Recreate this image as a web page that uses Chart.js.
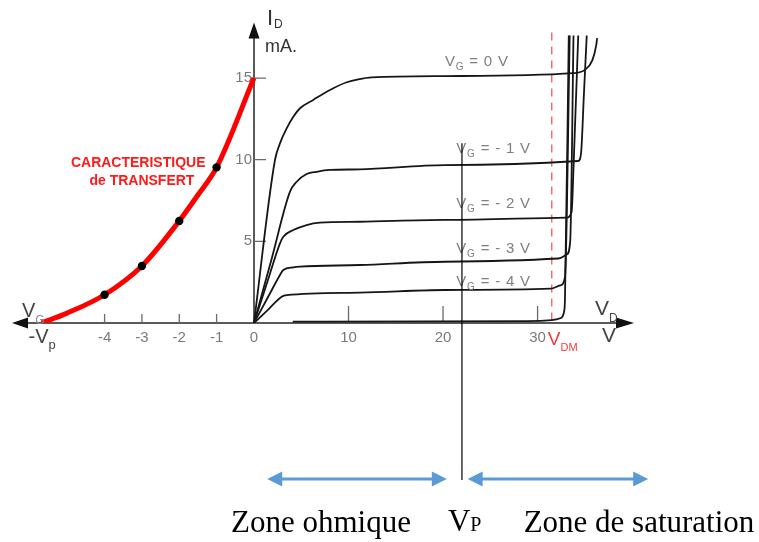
<!DOCTYPE html>
<html>
<head>
<meta charset="utf-8">
<script src="https://cdn.jsdelivr.net/npm/chart.js@4.4.1/dist/chart.umd.min.js"></script>
<style>
  html, body { margin: 0; padding: 0; background: #fff; }
  #wrap { position: relative; width: 759px; height: 542px; }
</style>
</head>
<body>
<div id="wrap"><canvas id="jfet" width="759" height="542"></canvas></div>
<script>
// transfer characteristic (left side, V_G in volts, I_D in mA)
const vgTransfer = [-5.69, -5.02, -4, -3, -2, -1.5, -1, 0];
const idTransfer = [0, 0.59, 1.73, 3.49, 6.25, 7.84, 9.53, 15.0];

// output characteristics (right side, V_D in volts, I_D in mA)
const gateLabels = ['0', '- 1', '- 2', '- 3', '- 4'];
const vdCurve0 = [0, 2.22, 2.75, 3.46, 4.16, 4.87, 6.27, 8.04, 9.81, 11.03, 12.48, 20.2, 33.8, 35.0, 35.8, 36.2, 36.3];
const idCurve0 = [0, 9.98, 11.0, 11.92, 12.63, 13.15, 13.66, 14.27, 14.74, 14.92, 15.04, 15.12, 15.3, 15.5, 16.1, 17.0, 17.45];
const vdCurve1 = [0, 1.9, 3.81, 4.52, 5.57, 6.63, 8.04, 11.2, 20.2, 34.3, 34.6, 34.9, 35.2];
const idCurve1 = [0, 4.0, 8.04, 8.65, 9.12, 9.26, 9.37, 9.41, 9.67, 9.92, 10.4, 14.0, 17.6];
const vdCurve2 = [0, 1.4, 2.75, 3.1, 4.16, 5.57, 6.98, 11.2, 20.2, 33.0, 33.6, 33.8, 34.3];
const idCurve2 = [0, 2.5, 4.88, 5.28, 5.69, 6.0, 6.14, 6.2, 6.31, 6.45, 6.8, 9.5, 17.6];
const vdCurve3 = [0, 1.4, 2.75, 3.1, 4.16, 4.87, 11.2, 20.2, 32.2, 33.1, 33.45, 33.8];
const idCurve3 = [0, 1.5, 2.94, 3.25, 3.41, 3.45, 3.55, 3.75, 3.95, 4.2, 5.0, 17.6];
const vdCurve4 = [0, 1.5, 2.93, 3.46, 11.2, 20.2, 31.4, 32.4, 32.9, 33.4];
const idCurve4 = [0, 0.82, 1.61, 1.71, 1.86, 2.02, 2.1, 2.3, 2.8, 17.6];
const vdCurve5 = [4.1, 29.0, 31.5, 32.4, 32.8, 32.9, 33.3];
const idCurve5 = [0.08, 0.12, 0.18, 0.29, 0.69, 1.53, 17.6];

// ticks
const idTicks = [5, 10, 15];
const vgTicks = [-4, -3, -2, -1];
const vdTicks = [10, 20, 30];

const vPinch = -5.69;   // -Vp on the gate axis
const vdMax = 31.5;     // V_DM
const vpDrain = 22;     // V_P on the drain axis
const zoneOhmic = [1.4, 20.4];
const zoneSat = [22.6, 41.7];

const SANS = '"Liberation Sans", Arial, sans-serif';
const SERIF = '"Liberation Serif", "Times New Roman", serif';

function toPoints(xs, ys) {
    return xs.map((x, i) => ({ x: x, y: ys[i] }));
}

function drawSub(ctx, x, y, main, sub, rest, o) {
    ctx.textAlign = 'left';
    ctx.textBaseline = 'alphabetic';
    ctx.font = o.font;
    ctx.fillStyle = o.color;
    ctx.fillText(main, x, y);
    let cx = x + ctx.measureText(main).width;
    ctx.font = o.subFont;
    ctx.fillStyle = o.subColor || o.color;
    ctx.fillText(sub, cx + (o.gap || 0), y + o.dy);
    cx += ctx.measureText(sub).width + (o.gap || 0);
    if (rest) {
        ctx.font = o.font;
        ctx.fillStyle = o.color;
        ctx.fillText(rest, cx, y);
    }
}

function arrowHead(ctx, tipX, tipY, dx, dy, len, half) {
    // dx,dy = unit direction of the arrow
    ctx.beginPath();
    ctx.moveTo(tipX, tipY);
    ctx.lineTo(tipX - dx * len - dy * half, tipY - dy * len + dx * half);
    ctx.lineTo(tipX - dx * len + dy * half, tipY - dy * len - dx * half);
    ctx.closePath();
    ctx.fill();
}

function doubleArrow(ctx, x1, x2, y) {
    ctx.strokeStyle = '#5b9bd5';
    ctx.fillStyle = '#5b9bd5';
    ctx.lineWidth = 3;
    ctx.beginPath();
    ctx.moveTo(x1 + 10, y);
    ctx.lineTo(x2 - 10, y);
    ctx.stroke();
    arrowHead(ctx, x1, y, -1, 0, 15, 7.5);
    arrowHead(ctx, x2, y, 1, 0, 15, 7.5);
}

const axesPlugin = {
    id: 'axes',
    beforeDatasetsDraw(chart) {
        const ctx = chart.ctx;
        const xg = chart.scales.xg, xd = chart.scales.xd, y = chart.scales.y;
        const x0 = xd.getPixelForValue(0);
        const y0 = y.getPixelForValue(0);
        ctx.save();
        ctx.strokeStyle = '#5a5a5a';
        ctx.fillStyle = '#111';
        ctx.lineWidth = 2;
        // horizontal axis
        ctx.beginPath();
        ctx.moveTo(xg.left + 8, y0);
        ctx.lineTo(xd.right - 8, y0);
        ctx.stroke();
        arrowHead(ctx, xg.left, y0, -1, 0, 16, 5.5);
        arrowHead(ctx, xd.right, y0, 1, 0, 18, 5.5);
        // vertical axis
        ctx.beginPath();
        ctx.moveTo(x0, y0);
        ctx.lineTo(x0, y.top + 8);
        ctx.stroke();
        arrowHead(ctx, x0, y.top, 0, -1, 16, 5.5);

        // tick marks
        ctx.strokeStyle = '#6a6a6a';
        ctx.lineWidth = 1.3;
        ctx.beginPath();
        idTicks.forEach(v => {
            const py = y.getPixelForValue(v);
            ctx.moveTo(x0, py);
            ctx.lineTo(x0 + 12, py);
        });
        vgTicks.forEach(v => {
            const px = xg.getPixelForValue(v);
            ctx.moveTo(px, y0);
            ctx.lineTo(px, y0 - 9);
        });
        vdTicks.forEach(v => {
            const px = xd.getPixelForValue(v);
            ctx.moveTo(px, y0);
            ctx.lineTo(px, y0 - 17);
        });
        ctx.stroke();

        // V_DM dashed line
        ctx.strokeStyle = '#f05a5a';
        ctx.lineWidth = 1.3;
        ctx.setLineDash([8, 6]);
        ctx.beginPath();
        const pxm = xd.getPixelForValue(vdMax);
        ctx.moveTo(pxm, y.top + 10);
        ctx.lineTo(pxm, y0);
        ctx.stroke();
        ctx.setLineDash([]);

        // tick labels
        ctx.fillStyle = '#7a7a7a';
        ctx.font = '15px ' + SANS;
        ctx.textBaseline = 'middle';
        ctx.textAlign = 'right';
        idTicks.forEach(v => ctx.fillText(String(v), x0 - 2, y.getPixelForValue(v)));
        ctx.textAlign = 'center';
        vgTicks.concat([0]).forEach(v => ctx.fillText(String(v), xg.getPixelForValue(v), y0 + 15));
        vdTicks.forEach(v => ctx.fillText(String(v), xd.getPixelForValue(v), y0 + 15));
        ctx.restore();
    },
    afterDatasetsDraw(chart) {
        const ctx = chart.ctx;
        const xg = chart.scales.xg, xd = chart.scales.xd, y = chart.scales.y;
        const x0 = xd.getPixelForValue(0);
        const y0 = y.getPixelForValue(0);
        ctx.save();

        // axis names
        drawSub(ctx, x0 + 13, 25, 'I', 'D', '', {
            font: '22px ' + SANS, subFont: '12px ' + SANS, color: '#333', dy: 3, gap: 1
        });
        ctx.font = '18px ' + SANS;
        ctx.fillStyle = '#333';
        ctx.fillText('mA.', x0 + 11, 52);

        drawSub(ctx, xg.left + 10, y0 - 6, 'V', 'G', '', {
            font: '20px ' + SANS, subFont: '12px ' + SANS, color: '#444', subColor: '#888', dy: 7
        });
        drawSub(ctx, xg.getPixelForValue(vPinch) - 13, y0 + 20, '-V', 'p', '', {
            font: '20px ' + SANS, subFont: '13px ' + SANS, color: '#444', dy: 6
        });
        drawSub(ctx, xd.right - 39, y0 - 8, 'V', 'D', '', {
            font: '21px ' + SANS, subFont: '12px ' + SANS, color: '#444', dy: 7
        });
        ctx.font = '21px ' + SANS;
        ctx.fillStyle = '#444';
        ctx.fillText('V', xd.right - 32, y0 + 19);
        drawSub(ctx, xd.getPixelForValue(vdMax) - 4, y0 + 22, 'V', 'DM', '', {
            font: '19px ' + SANS, subFont: '11px ' + SANS, color: '#f03c3c', dy: 6
        });

        // red label
        ctx.font = 'bold 14px ' + SANS;
        ctx.fillStyle = '#ff1a1a';
        ctx.textAlign = 'center';
        ctx.fillText('CARACTERISTIQUE', xg.getPixelForValue(-3.1), 167);
        ctx.fillText('de TRANSFERT', xg.getPixelForValue(-3.0), 185);

        // V_G labels on the output curves
        const flat = [idCurve0, idCurve1, idCurve2, idCurve3, idCurve4];
        const flatVd = [vdCurve0, vdCurve1, vdCurve2, vdCurve3, vdCurve4];
        const labelVd = [20.2, 21.4, 21.4, 21.4, 21.4];
        const lift = [10, 12, 12, 9, 4];
        ctx.letterSpacing = '0.8px';
        gateLabels.forEach((g, i) => {
            const k = flatVd[i].indexOf(20.2);
            const py = y.getPixelForValue(flat[i][k]) - lift[i];
            drawSub(ctx, xd.getPixelForValue(labelVd[i]), py, 'V', 'G', ' = ' + g + ' V', {
                font: '15px ' + SANS, subFont: '10px ' + SANS, color: '#7f7f7f', dy: 4
            });
        });
        ctx.letterSpacing = '0px';

        // V_P marker line and zones
        const pxp = xd.getPixelForValue(vpDrain);
        const arrowY = y0 + 156;
        ctx.strokeStyle = '#000';
        ctx.lineWidth = 1.2;
        ctx.beginPath();
        ctx.moveTo(pxp, y.getPixelForValue(11.0));
        ctx.lineTo(pxp, arrowY + 1);
        ctx.stroke();
        doubleArrow(ctx, xd.getPixelForValue(zoneOhmic[0]), xd.getPixelForValue(zoneOhmic[1]), arrowY);
        doubleArrow(ctx, xd.getPixelForValue(zoneSat[0]), xd.getPixelForValue(zoneSat[1]), arrowY);

        ctx.fillStyle = '#000';
        ctx.font = '31px ' + SERIF;
        ctx.textAlign = 'center';
        ctx.textBaseline = 'alphabetic';
        ctx.fillText('Zone ohmique', (xd.getPixelForValue(zoneOhmic[0]) + xd.getPixelForValue(zoneOhmic[1])) / 2 - 36, 532);
        ctx.fillText('Zone de saturation', 639, 532);
        drawSub(ctx, pxp - 14, 531, 'V', 'P', '', {
            font: '31px ' + SERIF, subFont: '20px ' + SERIF, color: '#000', dy: 0
        });
        ctx.restore();
    }
};

const outLine = (xs, ys) => ({
    data: toPoints(xs, ys),
    xAxisID: 'xd',
    yAxisID: 'y',
    showLine: true,
    borderColor: '#161616',
    borderWidth: 1.8,
    pointRadius: 0,
    cubicInterpolationMode: 'monotone'
});

const ctx = document.getElementById('jfet').getContext('2d');
new Chart(ctx, {
    type: 'scatter',
    data: {
        datasets: [
            outLine(vdCurve5, idCurve5),
            outLine(vdCurve4, idCurve4),
            outLine(vdCurve3, idCurve3),
            outLine(vdCurve2, idCurve2),
            outLine(vdCurve1, idCurve1),
            outLine(vdCurve0, idCurve0),
            {
                data: toPoints(vgTransfer, idTransfer),
                xAxisID: 'xg',
                yAxisID: 'y',
                showLine: true,
                borderColor: '#ff0000',
                borderWidth: 5,
                cubicInterpolationMode: 'monotone',
                pointRadius: c => (vgTicks.includes(vgTransfer[c.dataIndex]) ? 4.2 : 0),
                pointBackgroundColor: '#000',
                pointBorderWidth: 0
            }
        ]
    },
    options: {
        responsive: false,
        animation: false,
        events: [],
        layout: { padding: { left: 12, right: 125, top: 22.5, bottom: 219 } },
        plugins: { legend: { display: false }, tooltip: { enabled: false } },
        scales: {
            xg: { type: 'linear', axis: 'x', display: false, min: -6.48, max: 10.18 },
            xd: { type: 'linear', axis: 'x', display: false, min: -25.6, max: 40.2 },
            y: { type: 'linear', display: false, min: 0, max: 18.4 }
        }
    },
    plugins: [axesPlugin]
});
</script>
</body>
</html>
